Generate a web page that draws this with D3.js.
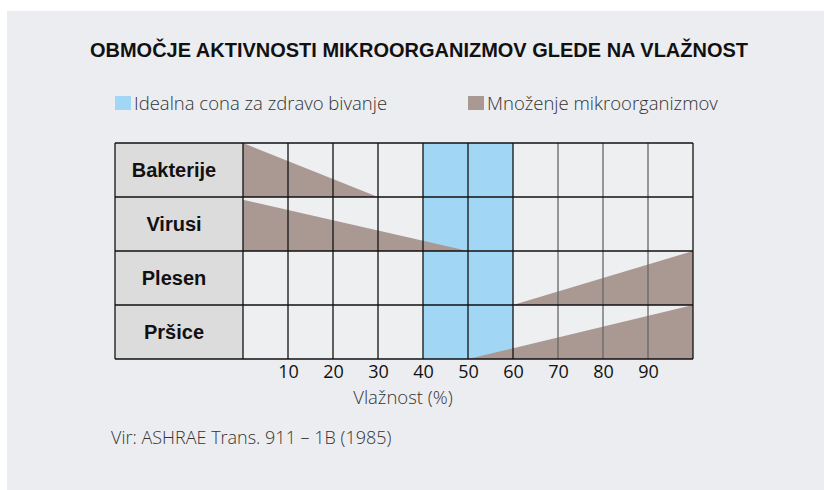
<!DOCTYPE html>
<html>
<head>
<meta charset="utf-8">
<script src="https://cdn.jsdelivr.net/npm/d3@7"></script>
<style>
  body { margin: 0; background: #ffffff; }
  svg { display: block; }
</style>
</head>
<body>
<svg id="chart"></svg>
<script>
const w = 824;
const h = 490;

const naslov = 'OBMOČJE AKTIVNOSTI MIKROORGANIZMOV GLEDE NA VLAŽNOST';
const legenda = ['Idealna cona za zdravo bivanje', 'Množenje mikroorganizmov'];
const organizmi = ['Bakterije', 'Virusi', 'Plesen', 'Pršice'];
const mreza = [0, 10, 20, 30, 40, 50, 60, 70, 80, 90, 100];
const oznake = [10, 20, 30, 40, 50, 60, 70, 80, 90];
// idealna cona (vlažnost %)
const cona = [40, 60];
// aktivnost: [vlažnost, delež višine vrstice]
const bakterije = [[0, 1], [30, 0]];
const virusi = [[0, 0.95], [50, 0]];
const plesen = [[60, 0], [100, 1]];
const prsice = [[50, 0], [100, 1]];
const aktivnost = [bakterije, virusi, plesen, prsice];

const modra = '#a2d6f5';
const rjava = '#aa9893';
const ozadje = '#ecedf0';

const svg = d3.select('#chart').attr('width', w).attr('height', h);

svg.append('rect')
  .attr('x', 7).attr('y', 11)
  .attr('width', w - 7).attr('height', h - 11)
  .attr('fill', ozadje);

svg.append('text')
  .attr('x', 90).attr('y', 57)
  .attr('textLength', 658)
  .attr('lengthAdjust', 'spacingAndGlyphs')
  .style('font-family', '"Liberation Sans Narrow", "Liberation Sans", sans-serif')
  .style('font-weight', 'bold')
  .style('font-size', '20px')
  .style('fill', '#111')
  .text(naslov);

// legenda
const legX = [115, 468];
const legBarve = [modra, rjava];
legenda.forEach((t, i) => {
  svg.append('rect')
    .attr('x', legX[i]).attr('y', 96)
    .attr('width', 16).attr('height', 14)
    .attr('fill', legBarve[i]);
  svg.append('text')
    .attr('x', legX[i] + 19).attr('y', 110)
    .style('font-family', '"Open Sans", sans-serif')
    .style('font-weight', 300)
    .style('font-size', '18.5px')
    .style('fill', '#333')
    .text(t);
});

const x = d3.scaleLinear().domain([0, 100]).range([243, 693]);
const y = d3.scaleBand().domain(organizmi).range([143, 359]);
const labelX = 115;

// ozadje celic
svg.append('rect')
  .attr('x', x(0)).attr('y', y.range()[0])
  .attr('width', x(100) - x(0)).attr('height', y.range()[1] - y.range()[0])
  .attr('fill', '#eeeff1');

// oznake vrstic
svg.selectAll('.lab')
  .data(organizmi)
  .enter()
  .append('rect')
  .attr('x', labelX)
  .attr('y', d => y(d))
  .attr('width', x(0) - labelX)
  .attr('height', y.bandwidth())
  .attr('fill', '#dcdcdd');

svg.selectAll('.labtxt')
  .data(organizmi)
  .enter()
  .append('text')
  .attr('x', (labelX + x(0)) / 2 - 5)
  .attr('y', d => y(d) + y.bandwidth() / 2 + 7)
  .attr('text-anchor', 'middle')
  .style('font-family', '"Liberation Sans", Arial, sans-serif')
  .style('font-weight', 'bold')
  .style('font-size', '20px')
  .style('fill', '#111')
  .text(d => d);

// idealna cona
svg.append('rect')
  .attr('x', x(cona[0])).attr('y', y.range()[0])
  .attr('width', x(cona[1]) - x(cona[0]))
  .attr('height', y.range()[1] - y.range()[0])
  .attr('fill', modra);

// aktivnost mikroorganizmov
organizmi.forEach((o, i) => {
  const top = y(o);
  const bot = top + y.bandwidth();
  const pts = aktivnost[i];
  const poly = pts.map(p => [x(p[0]), bot - p[1] * y.bandwidth()]);
  if (pts[0][1] > 0) poly.unshift([x(pts[0][0]), bot]);
  if (pts[pts.length - 1][1] > 0) poly.push([x(pts[pts.length - 1][0]), bot]);
  svg.append('path')
    .attr('d', d3.line()(poly) + 'Z')
    .attr('fill', rjava);
});

// mreza
svg.selectAll('.vl')
  .data(mreza)
  .enter()
  .append('line')
  .attr('x1', d => x(d)).attr('x2', d => x(d))
  .attr('y1', y.range()[0]).attr('y2', y.range()[1])
  .attr('stroke', d => (d > 60 && d < 100) ? '#666' : '#111')
  .attr('stroke-width', 1.3);

const vrstice = organizmi.map(d => y(d)).concat([y.range()[1]]);
svg.selectAll('.hl')
  .data(vrstice)
  .enter()
  .append('line')
  .attr('x1', labelX).attr('x2', x(100))
  .attr('y1', d => d).attr('y2', d => d)
  .attr('stroke', '#111')
  .attr('stroke-width', 1.3);

svg.append('line')
  .attr('x1', labelX).attr('x2', labelX)
  .attr('y1', y.range()[0]).attr('y2', y.range()[1])
  .attr('stroke', '#111').attr('stroke-width', 1.3);

// os x
const osX = d3.axisBottom(x).tickValues(oznake).tickSize(0).tickPadding(5);
svg.append('g')
  .attr('transform', 'translate(0,' + (y.range()[1] + 1) + ')')
  .call(osX)
  .call(g => g.select('.domain').remove())
  .selectAll('text')
  .style('font-family', '"Open Sans", sans-serif')
  .style('font-size', '18px')
  .style('fill', '#111');

svg.append('text')
  .attr('x', 403).attr('y', 404)
  .attr('text-anchor', 'middle')
  .style('font-family', '"Open Sans", sans-serif')
  .style('font-weight', 300)
  .style('font-size', '18.5px')
  .style('fill', '#333')
  .text('Vlažnost (%)');

svg.append('text')
  .attr('x', 111).attr('y', 444)
  .style('font-family', '"Open Sans", sans-serif')
  .style('font-weight', 300)
  .style('font-size', '18px')
  .style('fill', '#333')
  .text('Vir: ASHRAE Trans. 911 – 1B (1985)');
</script>
</body>
</html>
